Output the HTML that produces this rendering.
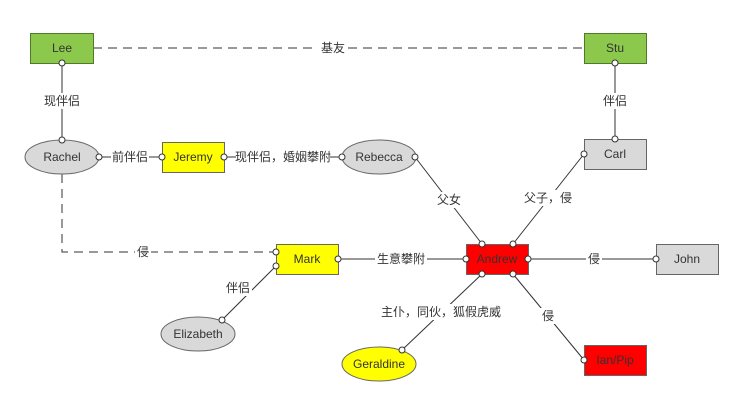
<!DOCTYPE html>
<html><head><meta charset="utf-8"><style>
html,body{margin:0;padding:0;background:#fff;}
svg{display:block;}
text{font-family:"Liberation Sans","Noto Sans CJK SC",sans-serif;font-size:12px;fill:#333;text-anchor:middle;dominant-baseline:central;}
.l{stroke:#333;stroke-width:1;fill:none;}
.c{stroke:#333;stroke-width:1;fill:#fff;}
.lb{fill:#fff;}
</style></head><body>
<svg width="748" height="413" viewBox="0 0 748 413">
<!-- edges -->
<line class="l" x1="93" y1="48" x2="584" y2="48" stroke-dasharray="9,6"/>
<polyline class="l" points="62,174 62,252 276,252" stroke-dasharray="9,6"/>
<line class="l" x1="62" y1="63" x2="62" y2="140"/>
<line class="l" x1="615" y1="63" x2="615" y2="139"/>
<line class="l" x1="99" y1="157" x2="162" y2="157"/>
<line class="l" x1="224" y1="157" x2="342" y2="157"/>
<line class="l" x1="415" y1="157" x2="482" y2="244"/>
<line class="l" x1="584" y1="154" x2="513" y2="244"/>
<line class="l" x1="338" y1="259" x2="466" y2="259"/>
<line class="l" x1="528" y1="259" x2="656" y2="259"/>
<line class="l" x1="482" y1="274" x2="402" y2="350"/>
<line class="l" x1="513" y1="274" x2="584" y2="360"/>
<line class="l" x1="276" y1="266" x2="222" y2="320"/>
<!-- labels bg -->
<rect class="lb" x="318" y="40" width="30" height="16"/>
<rect class="lb" x="42" y="93" width="40" height="16"/>
<rect class="lb" x="600" y="93" width="30" height="16"/>
<rect class="lb" x="111" y="149" width="38" height="16"/>
<rect class="lb" x="236" y="149" width="94" height="16"/>
<rect class="lb" x="435" y="192" width="28" height="16"/>
<rect class="lb" x="522" y="190" width="52" height="16"/>
<rect class="lb" x="135" y="244" width="16" height="16"/>
<rect class="lb" x="375" y="251" width="52" height="16"/>
<rect class="lb" x="586" y="251" width="16" height="16"/>
<rect class="lb" x="382" y="304" width="118" height="16"/>
<rect class="lb" x="540" y="308" width="16" height="16"/>
<rect class="lb" x="224" y="280" width="28" height="16"/>
<text x="333" y="48">基友</text>
<text x="62" y="101">现伴侣</text>
<text x="615" y="101">伴侣</text>
<text x="130" y="157">前伴侣</text>
<text x="283" y="157">现伴侣，婚姻攀附</text>
<text x="449" y="200">父女</text>
<text x="548" y="198">父子，侵</text>
<text x="143" y="252">侵</text>
<text x="401" y="259">生意攀附</text>
<text x="594" y="259">侵</text>
<text x="441" y="312">主仆，同伙，狐假虎威</text>
<text x="548" y="316">侵</text>
<text x="238" y="288">伴侣</text>
<!-- nodes -->
<rect x="30.5" y="33.5" width="63" height="30" fill="#8cc84b" stroke="#4f7a28"/>
<text x="62" y="48">Lee</text>
<rect x="584.5" y="33.5" width="62" height="30" fill="#8cc84b" stroke="#4f7a28"/>
<text x="615" y="48">Stu</text>
<rect x="584.5" y="139.5" width="62" height="30" fill="#d9d9d9" stroke="#666"/>
<text x="615" y="154">Carl</text>
<rect x="162.5" y="142.5" width="62" height="30" fill="#ffff00" stroke="#666"/>
<text x="193" y="157">Jeremy</text>
<ellipse cx="62" cy="157" rx="37" ry="17" fill="#d9d9d9" stroke="#666"/>
<text x="62" y="157">Rachel</text>
<ellipse cx="379" cy="157" rx="37" ry="17" fill="#d9d9d9" stroke="#666"/>
<text x="379" y="157">Rebecca</text>
<rect x="276.5" y="244.5" width="62" height="30" fill="#ffff00" stroke="#666"/>
<text x="307" y="259">Mark</text>
<rect x="466.5" y="244.5" width="62" height="30" fill="#ff0000" stroke="#666"/>
<text x="497" y="259">Andrew</text>
<rect x="656.5" y="244.5" width="62" height="30" fill="#d9d9d9" stroke="#666"/>
<text x="687" y="259">John</text>
<rect x="584.5" y="345.5" width="62" height="30" fill="#ff0000" stroke="#666"/>
<text x="615" y="360">Ian/Pip</text>
<ellipse cx="198" cy="334" rx="37" ry="17" fill="#d9d9d9" stroke="#666"/>
<text x="198" y="334">Elizabeth</text>
<ellipse cx="379" cy="364" rx="37" ry="17" fill="#ffff00" stroke="#666"/>
<text x="379" y="364">Geraldine</text>
<!-- endpoint circles -->
<g class="c">
<circle cx="62" cy="63" r="3"/><circle cx="62" cy="140" r="3"/>
<circle cx="615" cy="63" r="3"/><circle cx="615" cy="139" r="3"/>
<circle cx="99" cy="157" r="3"/><circle cx="162" cy="157" r="3"/>
<circle cx="224" cy="157" r="3"/><circle cx="342" cy="157" r="3"/>
<circle cx="415" cy="157" r="3"/><circle cx="482" cy="244" r="3"/>
<circle cx="584" cy="154" r="3"/><circle cx="513" cy="244" r="3"/>
<circle cx="276" cy="252" r="3"/>
<circle cx="338" cy="259" r="3"/><circle cx="466" cy="259" r="3"/>
<circle cx="528" cy="259" r="3"/><circle cx="656" cy="259" r="3"/>
<circle cx="482" cy="274" r="3"/><circle cx="402" cy="350" r="3"/>
<circle cx="513" cy="274" r="3"/><circle cx="584" cy="360" r="3"/>
<circle cx="276" cy="266" r="3"/><circle cx="222" cy="320" r="3"/>
</g>
</svg>
</body></html>
